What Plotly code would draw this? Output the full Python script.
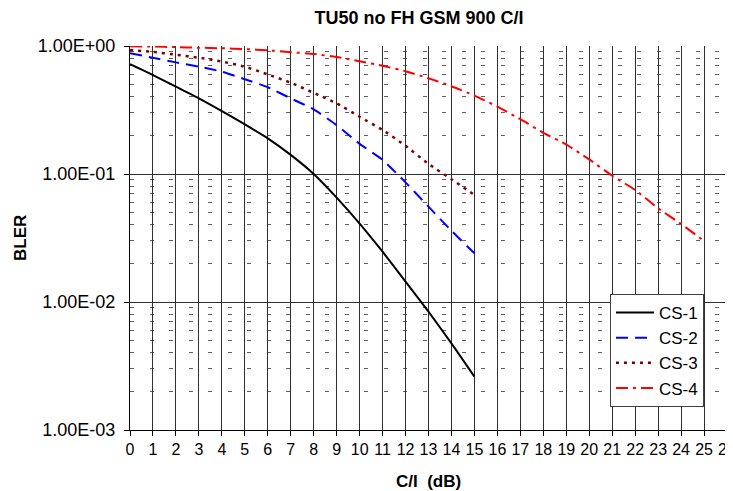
import plotly.graph_objects as go

# C/I (dB) and BLER
ci_15 = list(range(0, 16))
ci_25 = list(range(0, 26))

bler_cs1 = [0.72, 0.593, 0.481, 0.39, 0.31, 0.244, 0.19, 0.141, 0.1, 0.0653,
            0.041, 0.0247, 0.0144, 0.0084, 0.00475, 0.00261]
bler_cs2 = [0.877, 0.81, 0.745, 0.69, 0.63, 0.55, 0.476, 0.39, 0.32, 0.241,
            0.172, 0.129, 0.086, 0.0556, 0.036, 0.024]
bler_cs3 = [0.93, 0.90, 0.855, 0.81, 0.755, 0.69, 0.60, 0.517, 0.43, 0.357,
            0.28, 0.221, 0.166, 0.12, 0.091, 0.0686]
bler_cs4 = [0.995, 0.99, 0.98, 0.97, 0.96, 0.947, 0.925, 0.895, 0.866, 0.82,
            0.76, 0.70, 0.635, 0.56, 0.485, 0.41, 0.336, 0.268, 0.21, 0.17,
            0.13, 0.097, 0.075, 0.054, 0.0407, 0.030]

y_ticks = [1e-3, 1e-2, 1e-1, 1]
y_labels = ["1.00E-03", "1.00E-02", "1.00E-01", "1.00E+00"]
y_minor = [k * 10.0 ** e for e in (-3, -2, -1) for k in range(2, 10)]

fig = go.Figure()
fig.add_trace(go.Scatter(x=ci_15, y=bler_cs1, mode="lines", name="CS-1",
                         line=dict(color="black", width=2, shape="spline", smoothing=0.5)))
fig.add_trace(go.Scatter(x=ci_15, y=bler_cs2, mode="lines", name="CS-2",
                         line=dict(color="#0000ff", width=2, dash="12px,7px",
                                   shape="spline", smoothing=0.5)))
fig.add_trace(go.Scatter(x=ci_15, y=bler_cs3, mode="lines", name="CS-3",
                         line=dict(color="#800000", width=2.5, dash="3px,5px",
                                   shape="spline", smoothing=0.5)))
fig.add_trace(go.Scatter(x=ci_25, y=bler_cs4, mode="lines", name="CS-4",
                         line=dict(color="#ff0000", width=2, dash="12px,5px,3px,5px",
                                   shape="spline", smoothing=0.5)))

# page body adds an 8px offset; the figure runs a little past the right edge
# so the last tick label is cut by the window, as in the original
W, H = 733, 483
font = "Liberation Sans, Arial, sans-serif"
fig.update_layout(
    width=W, height=H,
    margin=dict(l=122, r=14, t=38, b=61),
    paper_bgcolor="white", plot_bgcolor="white",
    font=dict(family=font, size=16, color="black"),
    title=dict(text="<b>TU50 no FH GSM 900 C/I</b>", x=411 / W, xanchor="center",
               y=1 - 10 / H, yanchor="middle", font=dict(size=18)),
    showlegend=True,
    legend=dict(x=0.804, xanchor="left", y=0.354, yanchor="top",
                bordercolor="#404040", borderwidth=1, bgcolor="white",
                font=dict(size=17), itemwidth=38),
    xaxis=dict(range=[0, 26], dtick=1, tick0=0, showline=True, linecolor="black",
               ticks="outside", ticklen=5, tickcolor="black", automargin=False,
               showgrid=True, gridcolor="#303030", gridwidth=1, zeroline=False,
               tickfont=dict(size=16), ticklabeloverflow="allow"),
    yaxis=dict(type="log", range=[-3, 0], tickvals=y_ticks, ticktext=y_labels,
               showline=True, linecolor="black", ticks="outside", ticklen=5,
               tickcolor="black", showgrid=True, gridcolor="#303030", gridwidth=1,
               zeroline=False, automargin=False, ticklabelstandoff=5,
               tickfont=dict(size=18),
               minor=dict(tickvals=y_minor, showgrid=True, gridcolor="#606060",
                          griddash="4px,15.5px", gridwidth=1, ticks="")),
    annotations=[
        dict(text="<b>BLER</b>", xref="paper", yref="paper", x=-110 / 597,
             y=0.5, xanchor="center", yanchor="middle", textangle=-90,
             showarrow=False, font=dict(size=17)),
        dict(text="<b>C/I\u00a0\u00a0(dB)</b>", xref="paper", yref="paper",
             x=0.5, y=-51 / 384, xanchor="center", yanchor="middle",
             showarrow=False, font=dict(size=17)),
    ],
)

fig.write_html("out.html")
